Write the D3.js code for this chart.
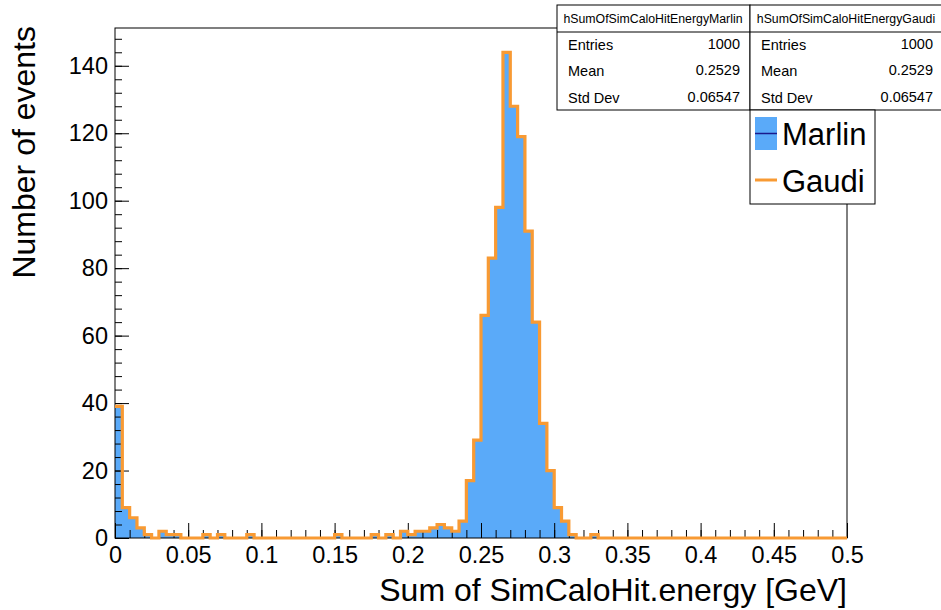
<!DOCTYPE html>
<html>
<head>
<meta charset="utf-8">
<script src="https://cdn.jsdelivr.net/npm/d3@7"></script>
<style>
  body { margin: 0; background: #fff; }
  svg { font-family: "Liberation Sans", Arial, Helvetica, sans-serif; }
</style>
</head>
<body>
<div id="chart"></div>
<script>
// histogram: 100 bins from 0 to 0.5 GeV
var binLow = 0, binHigh = 0.5, nBins = 100;
var counts = [
  39, 9, 6, 3, 1, 0, 2, 1, 1, 0,
   0, 0, 1, 0, 1, 0, 0, 0, 1, 0,
   0, 0, 0, 0, 0, 0, 0, 0, 0, 0,
   1, 0, 0, 0, 0, 1, 0, 1, 0, 2,
   1, 2, 2, 3, 4, 3, 2, 5, 17, 29,
  66, 83, 98, 144, 128, 119, 91, 64, 34, 20,
   9, 5, 1, 0, 0, 1, 0, 0, 0, 0,
   0, 0, 0, 0, 0, 0, 0, 0, 0, 0,
   0, 0, 0, 0, 0, 0, 0, 0, 0, 0,
   0, 0, 0, 0, 0, 0, 0, 0, 0, 0
];
var xTicks = [0, 0.05, 0.1, 0.15, 0.2, 0.25, 0.3, 0.35, 0.4, 0.45, 0.5];
var xTickLabels = ["0", "0.05", "0.1", "0.15", "0.2", "0.25", "0.3", "0.35", "0.4", "0.45", "0.5"];
var yTicks = [0, 20, 40, 60, 80, 100, 120, 140];
var yMax = 151.2;

var statNames = ["Entries", "Mean", "Std Dev"];
var marlinStats = ["1000", "0.2529", "0.06547"];
var gaudiStats = ["1000", "0.2529", "0.06547"];
var histNames = ["hSumOfSimCaloHitEnergyMarlin", "hSumOfSimCaloHitEnergyGaudi"];
var legendNames = ["Marlin", "Gaudi"];

var blue = "#5aaaf9", orange = "#f89a33", navy = "#1a1a8c";

var W = 941, H = 610;
var margin = {top: 28, right: 94, bottom: 72, left: 115},
    width = W - margin.left - margin.right,
    height = H - margin.top - margin.bottom;

var svg = d3.select("#chart").append("svg")
    .attr("width", W)
    .attr("height", H);

var g = svg.append("g")
    .attr("transform", "translate(" + margin.left + "," + margin.top + ")");

var x = d3.scaleLinear().domain([binLow, binHigh]).range([0, width]);
var y = d3.scaleLinear().domain([0, yMax]).range([height, 0]);

var binW = (binHigh - binLow) / nBins;
var bins = counts.map(function(c, i) {
  return {x0: binLow + i * binW, x1: binLow + (i + 1) * binW, n: c};
});

// Marlin: filled
var area = [];
bins.forEach(function(b) { area.push([b.x0, b.n], [b.x1, b.n]); });
g.append("path")
    .attr("d", d3.area()
      .x(function(d) { return x(d[0]); })
      .y0(height)
      .y1(function(d) { return y(d[1]); })(area))
    .attr("fill", blue);

// frame
g.append("rect")
    .attr("width", width).attr("height", height)
    .attr("fill", "none").attr("stroke", "#000").attr("stroke-width", 1);

// axis-x
var xMinor = d3.range(0, 51).map(function(i) { return i * 0.01; });
g.append("g")
    .attr("transform", "translate(0," + height + ")")
    .call(d3.axisBottom(x).tickValues(xMinor).tickSize(-8).tickFormat(""))
    .call(function(a) { a.select(".domain").remove(); });
g.append("g")
    .attr("class", "axis axis--x")
    .attr("transform", "translate(0," + height + ")")
    .call(d3.axisBottom(x).tickValues(xTicks).tickSizeInner(-15).tickSizeOuter(0).tickPadding(8)
      .tickFormat(function(d, i) { return xTickLabels[i]; }))
    .call(function(a) {
      a.select(".domain").remove();
      a.selectAll("text").attr("font-size", "23.5px").attr("font-family", null);
    });

// axis-y
var yMinor = d3.range(0, 152, 4);
g.append("g")
    .call(d3.axisLeft(y).tickValues(yMinor).tickSize(-7).tickFormat(""))
    .call(function(a) { a.select(".domain").remove(); });
g.append("g")
    .attr("class", "axis axis--y")
    .call(d3.axisLeft(y).tickValues(yTicks).tickSizeInner(-14).tickSizeOuter(0).tickPadding(7))
    .call(function(a) {
      a.select(".domain").remove();
      a.selectAll("text").attr("font-size", "23.5px").attr("font-family", null);
    });
g.selectAll(".tick line").attr("stroke", "#000");

// Gaudi: outline
var step = [];
bins.forEach(function(b) { step.push([b.x0, b.n], [b.x1, b.n]); });
g.append("path")
    .attr("d", d3.line()
      .x(function(d) { return x(d[0]); })
      .y(function(d) { return y(d[1]); })(step))
    .attr("fill", "none")
    .attr("stroke", orange)
    .attr("stroke-width", 3.2);

// axis titles
svg.append("text")
    .attr("x", margin.left + width)
    .attr("y", 601)
    .attr("text-anchor", "end")
    .attr("font-size", "32px")
    .text("Sum of SimCaloHit.energy [GeV]");
svg.append("text")
    .attr("transform", "translate(35," + (margin.top - 2) + ") rotate(-90)")
    .attr("text-anchor", "end")
    .attr("font-size", "32px")
    .text("Number of events");

// stats boxes
function statBox(x0, w, name, vals) {
  var b = svg.append("g").attr("transform", "translate(" + x0 + ",5)");
  b.append("rect").attr("width", w).attr("height", 105)
    .attr("fill", "#fff").attr("stroke", "#000");
  b.append("line").attr("x1", 0).attr("x2", w).attr("y1", 27).attr("y2", 27).attr("stroke", "#000");
  b.append("text").attr("x", 96).attr("y", 17.5).attr("text-anchor", "middle")
    .attr("font-size", "12.3px").text(name);
  statNames.forEach(function(s, i) {
    b.append("text").attr("x", 11).attr("y", 45 + i * 26.3).attr("font-size", "14.5px").text(s);
    b.append("text").attr("x", 183).attr("y", 44 + i * 26.3).attr("text-anchor", "end")
      .attr("font-size", "14.5px").text(vals[i]);
  });
}
statBox(557, 193, histNames[0], marlinStats);
statBox(750, 193, histNames[1], gaudiStats);

// legend
var lg = svg.append("g").attr("transform", "translate(750,110)");
lg.append("rect").attr("width", 125).attr("height", 94)
  .attr("fill", "#fff").attr("stroke", "#000");
lg.append("rect").attr("x", 5).attr("y", 7).attr("width", 22).attr("height", 33).attr("fill", blue);
lg.append("line").attr("x1", 5).attr("x2", 27).attr("y1", 23.5).attr("y2", 23.5)
  .attr("stroke", navy).attr("stroke-width", 1.5);
lg.append("line").attr("x1", 5).attr("x2", 27).attr("y1", 70).attr("y2", 70)
  .attr("stroke", orange).attr("stroke-width", 3);
legendNames.forEach(function(n, i) {
  lg.append("text").attr("x", 32).attr("y", 35 + i * 47).attr("font-size", "31px").text(n);
});
</script>
</body>
</html>
